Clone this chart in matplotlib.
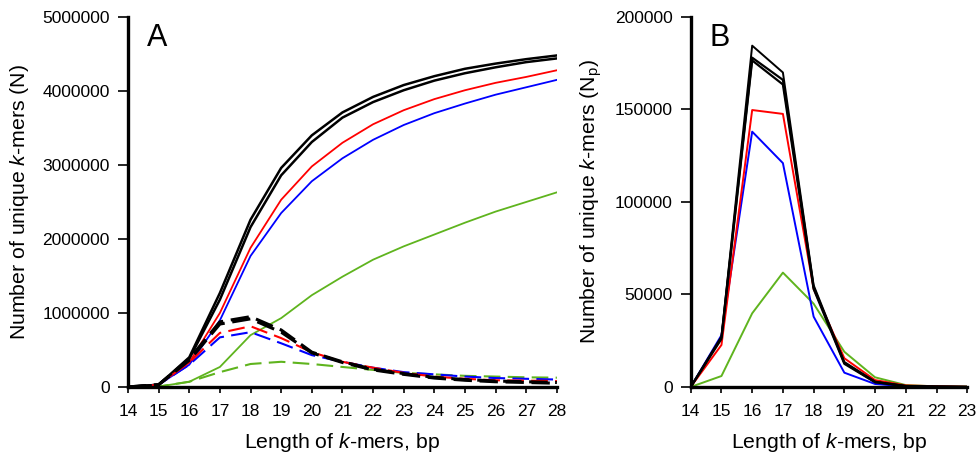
import matplotlib
matplotlib.use('Agg')
import matplotlib.pyplot as plt

plt.rcParams['font.family'] = ['Liberation Sans', 'DejaVu Sans']
plt.rcParams['mathtext.fontset'] = 'custom'
plt.rcParams['mathtext.rm'] = 'Liberation Sans'
plt.rcParams['mathtext.it'] = 'Liberation Sans:italic'

RED = '#ff0000'
BLUE = '#0000ff'
GREEN = '#5fb41e'

# --- Panel A data (k = 14..28) ---
k_a = list(range(14, 29))
a_black1 = [0, 0.03e6, 0.40e6, 1.27e6, 2.26e6, 2.96e6, 3.40e6, 3.71e6, 3.92e6, 4.08e6, 4.20e6, 4.30e6, 4.37e6, 4.43e6, 4.48e6]
a_black2 = [0, 0.03e6, 0.38e6, 1.18e6, 2.16e6, 2.86e6, 3.31e6, 3.64e6, 3.85e6, 4.01e6, 4.14e6, 4.24e6, 4.32e6, 4.39e6, 4.44e6]
a_red = [0, 0.03e6, 0.33e6, 1.00e6, 1.88e6, 2.53e6, 2.98e6, 3.30e6, 3.55e6, 3.74e6, 3.89e6, 4.01e6, 4.11e6, 4.19e6, 4.28e6]
a_blue = [0, 0.03e6, 0.30e6, 0.90e6, 1.77e6, 2.35e6, 2.78e6, 3.09e6, 3.34e6, 3.54e6, 3.70e6, 3.83e6, 3.95e6, 4.05e6, 4.15e6]
a_green = [0, 0.005e6, 0.07e6, 0.27e6, 0.70e6, 0.93e6, 1.24e6, 1.49e6, 1.72e6, 1.90e6, 2.06e6, 2.22e6, 2.37e6, 2.50e6, 2.63e6]
a_black_d1 = [0, 0.03e6, 0.38e6, 0.88e6, 0.95e6, 0.77e6, 0.47e6, 0.34e6, 0.24e6, 0.18e6, 0.13e6, 0.10e6, 0.08e6, 0.07e6, 0.06e6]
a_black_d2 = [0, 0.03e6, 0.36e6, 0.85e6, 0.92e6, 0.74e6, 0.46e6, 0.33e6, 0.23e6, 0.17e6, 0.12e6, 0.09e6, 0.07e6, 0.06e6, 0.05e6]
a_red_d = [0, 0.03e6, 0.33e6, 0.73e6, 0.82e6, 0.66e6, 0.47e6, 0.34e6, 0.26e6, 0.19e6, 0.14e6, 0.11e6, 0.09e6, 0.085e6, 0.08e6]
a_blue_d = [0, 0.03e6, 0.30e6, 0.67e6, 0.74e6, 0.59e6, 0.43e6, 0.34e6, 0.26e6, 0.20e6, 0.17e6, 0.14e6, 0.12e6, 0.11e6, 0.10e6]
a_green_d = [0, 0.005e6, 0.07e6, 0.20e6, 0.31e6, 0.34e6, 0.31e6, 0.27e6, 0.23e6, 0.19e6, 0.17e6, 0.15e6, 0.14e6, 0.13e6, 0.125e6]

# --- Panel B data (k = 14..23) ---
k_b = list(range(14, 24))
b_black1 = [0, 27e3, 184.5e3, 170e3, 55e3, 13.5e3, 2.9e3, 0.5e3, 0.2e3, 0]
b_black2 = [0, 27e3, 178e3, 166e3, 54e3, 13e3, 2.7e3, 0.5e3, 0.2e3, 0]
b_black3 = [0, 26e3, 176.5e3, 163.5e3, 53e3, 12.5e3, 2.5e3, 0.4e3, 0.1e3, 0]
b_red = [0, 22.7e3, 149.7e3, 147.6e3, 53e3, 15.5e3, 3.7e3, 0.8e3, 0.4e3, 0.1e3]
b_blue = [0, 28e3, 138e3, 121e3, 38e3, 7.7e3, 1.6e3, 0.3e3, 0.1e3, 0]
b_green = [0, 5.9e3, 39.8e3, 61.8e3, 45e3, 19e3, 5.2e3, 1.0e3, 0.3e3, 0.2e3]

fig = plt.figure(figsize=(9.77, 4.59), dpi=100)
fig.patch.set_facecolor('white')
axA = fig.add_axes([0.131, 0.157, 0.439, 0.806])
axB = fig.add_axes([0.707, 0.157, 0.283, 0.806])

dash_c = (0, (8, 3.5))   # coloured dashed
dash_k = (0, (6, 2.5))   # black dashed (thicker line)

# solid curves
axA.plot(k_a, a_green, color=GREEN, lw=1.3)
axA.plot(k_a, a_blue, color=BLUE, lw=1.3)
axA.plot(k_a, a_red, color=RED, lw=1.3)
axA.plot(k_a, a_black2, color='black', lw=1.8)
axA.plot(k_a, a_black1, color='black', lw=1.8)
# dashed curves
axA.plot(k_a, a_green_d, color=GREEN, lw=1.5, linestyle=dash_c)
axA.plot(k_a, a_blue_d, color=BLUE, lw=1.5, linestyle=dash_c)
axA.plot(k_a, a_red_d, color=RED, lw=1.5, linestyle=dash_c)
axA.plot(k_a, a_black_d2, color='black', lw=2.2, linestyle=dash_k)
axA.plot(k_a, a_black_d1, color='black', lw=2.2, linestyle=dash_k)

axB.plot(k_b, b_green, color=GREEN, lw=1.4)
axB.plot(k_b, b_blue, color=BLUE, lw=1.4)
axB.plot(k_b, b_red, color=RED, lw=1.4)
axB.plot(k_b, b_black3, color='black', lw=1.6)
axB.plot(k_b, b_black2, color='black', lw=1.6)
axB.plot(k_b, b_black1, color='black', lw=1.4)

axA.set_xlim(14, 28)
axA.set_ylim(0, 5000000)
axA.set_xticks(k_a)
axA.set_yticks([0, 1000000, 2000000, 3000000, 4000000, 5000000])
axA.set_yticklabels(['0', '1000000', '2000000', '3000000', '4000000', '5000000'])

axB.set_xlim(14, 23)
axB.set_ylim(0, 200000)
axB.set_xticks(k_b)
axB.set_yticks([0, 50000, 100000, 150000, 200000])
axB.set_yticklabels(['0', '50000', '100000', '150000', '200000'])

for ax in (axA, axB):
    ax.spines['top'].set_visible(False)
    ax.spines['right'].set_visible(False)
    ax.spines['left'].set_linewidth(2.4)
    ax.spines['bottom'].set_linewidth(2.4)
    ax.tick_params(axis='y', direction='out', length=7, width=1.2, pad=6, labelsize=12.5)
    ax.tick_params(axis='x', direction='out', length=4, width=1.2, pad=8, labelsize=12.5)
    ax.set_xlabel('Length of $\\it{k}$-mers, bp', fontsize=15.3, labelpad=9)
    for sp in ax.spines.values():
        sp.set_zorder(5)

axA.set_ylabel('Number of unique $\\it{k}$-mers (N)', fontsize=15.3, labelpad=8)
axB.set_ylabel('Number of unique $\\it{k}$-mers (N$_\\mathrm{p}$)', fontsize=15.3, labelpad=8)

axA.text(0.067, 0.985, 'A', transform=axA.transAxes, fontsize=22, ha='center', va='top')
axB.text(0.105, 0.985, 'B', transform=axB.transAxes, fontsize=22, ha='center', va='top')

fig.savefig('out.png', dpi=100, facecolor='white')
